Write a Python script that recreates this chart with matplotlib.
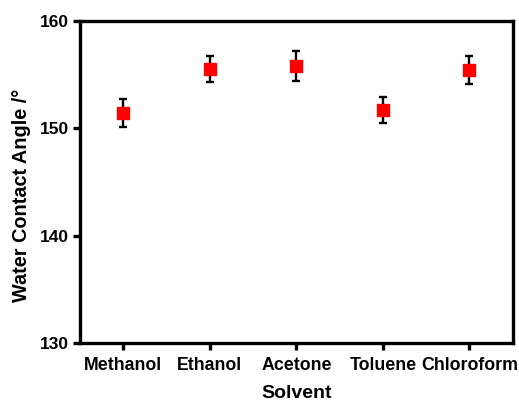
import matplotlib.pyplot as plt
import numpy as np

solvents = ['Methanol', 'Ethanol', 'Acetone', 'Toluene', 'Chloroform']
angles = [151.4, 155.5, 155.8, 151.7, 155.4]
errors = [1.3, 1.2, 1.4, 1.2, 1.3]

plt.rcParams['font.family'] = ['Liberation Sans', 'DejaVu Sans']
plt.rcParams['font.weight'] = 'bold'

fig = plt.figure(figsize=(5.19, 4.03), dpi=100)
ax = fig.add_axes([0.154, 0.149, 0.834, 0.799])

x = np.arange(1, len(solvents) + 1)
ax.errorbar(x, angles, yerr=errors, fmt='none', ecolor='black',
            elinewidth=1.7, capsize=3, capthick=1.7, zorder=2)
ax.plot(x, angles, 's', color='red', markersize=8.5, zorder=3)

ax.set_xlim(0.5, 5.5)
ax.set_ylim(130, 160)
ax.set_yticks([130, 140, 150, 160])
ax.set_xticks(x)
ax.set_xticklabels(solvents)

for s in ax.spines.values():
    s.set_linewidth(2.4)
ax.tick_params(width=2.4, length=5, labelsize=12.5, pad=3)
ax.tick_params(axis='x', labelsize=12.8, pad=5)

ax.set_xlabel('Solvent', fontsize=14, fontweight='bold', labelpad=8)
ax.set_ylabel('Water Contact Angle /°', fontsize=14.3, fontweight='bold')
ax.yaxis.set_label_coords(-0.112, 0.457)

fig.savefig('out.png', dpi=100)
